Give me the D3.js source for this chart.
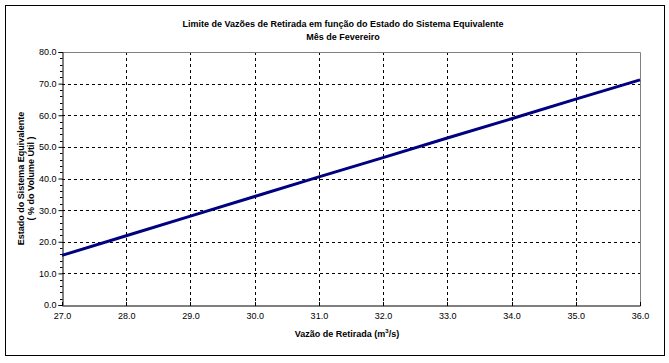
<!DOCTYPE html>
<html>
<head>
<meta charset="utf-8">
<script src="https://cdn.jsdelivr.net/npm/d3@7"></script>
<style>
  body { margin: 0; background: #fff; }
  text { font-family: "Liberation Sans", Arial, sans-serif; fill: #000; }
</style>
</head>
<body>
<svg id="chart"></svg>
<script>
// values
const vazao = [27, 28, 29, 30, 31, 32, 33, 34, 35, 36];
const estado = [15.7, 21.9, 28.1, 34.3, 40.5, 46.6, 52.8, 58.9, 65.1, 71.2];
const xTicks = [27, 28, 29, 30, 31, 32, 33, 34, 35, 36];
const yTicks = [0, 10, 20, 30, 40, 50, 60, 70, 80];
const titleLines = ['Limite de Vazões de Retirada em função do Estado do Sistema Equivalente', 'Mês de Fevereiro'];
const yLabelLines = ['Estado do Sistema Equivalente', '( % do Volume Útil )'];

const width = 669, height = 363;
const margin = {top: 52, right: 29, bottom: 58, left: 62};

const svg = d3.select('#chart')
    .attr('width', width)
    .attr('height', height);

// outer frame
svg.append('rect')
    .attr('x', 5.5).attr('y', 5.5)
    .attr('width', 659).attr('height', 350)
    .attr('fill', 'none')
    .attr('stroke', '#000')
    .attr('stroke-width', 1);

const x = d3.scaleLinear().domain([27, 36]).range([margin.left, width - margin.right]);
const y = d3.scaleLinear().domain([0, 80]).range([height - margin.bottom, margin.top]);

const plot = svg.append('g');

// grid
plot.append('g').attr('class', 'hgrid')
    .selectAll('line')
    .data(yTicks.filter(d => d > 0 && d < 80))
    .enter().append('line')
    .attr('x1', x(27)).attr('x2', x(36))
    .attr('y1', d => Math.round(y(d)) + 0.5).attr('y2', d => Math.round(y(d)) + 0.5)
    .attr('stroke', '#000')
    .attr('stroke-dasharray', '3,3');

plot.append('g').attr('class', 'vgrid')
    .selectAll('line')
    .data(xTicks.filter(d => d > 27 && d < 36))
    .enter().append('line')
    .attr('x1', d => Math.round(x(d)) + 0.5).attr('x2', d => Math.round(x(d)) + 0.5)
    .attr('y1', y(80)).attr('y2', y(0))
    .attr('stroke', '#000')
    .attr('stroke-dasharray', '3,3');

// top and right border of plot area
plot.append('path')
    .attr('d', `M${x(27)},${Math.round(y(80)) + 0.5}H${Math.round(x(36)) + 0.5}V${y(0)}`)
    .attr('fill', 'none')
    .attr('stroke', '#808080');

// y axis
const yAxis = svg.append('g')
    .attr('transform', `translate(${Math.round(x(27)) + 0.5},0)`)
    .call(d3.axisLeft(y).tickValues(yTicks).tickFormat(d3.format('.1f')).tickSize(4).tickPadding(2));
yAxis.select('.domain').attr('stroke', '#000');
yAxis.selectAll('text').style('font-size', '9px').attr('fill', '#000');

// minor y ticks
svg.append('g')
    .selectAll('line')
    .data(d3.range(0, 81, 2).filter(d => d % 10 !== 0))
    .enter().append('line')
    .attr('x1', Math.round(x(27)) - 2).attr('x2', Math.round(x(27)) + 0.5)
    .attr('y1', d => Math.round(y(d)) + 0.5).attr('y2', d => Math.round(y(d)) + 0.5)
    .attr('stroke', '#000');

// x axis
const xAxis = svg.append('g')
    .attr('transform', `translate(0,${Math.round(y(0)) + 0.5})`)
    .call(d3.axisBottom(x).tickValues(xTicks).tickFormat(d3.format('.1f')).tickSize(0).tickPadding(7));
xAxis.select('.domain').attr('stroke', '#000');
xAxis.selectAll('text').style('font-size', '9px').attr('fill', '#000');
xAxis.selectAll('.tick line').remove();
svg.append('g')
    .selectAll('line')
    .data(xTicks)
    .enter().append('line')
    .attr('x1', d => Math.round(x(d)) + 0.5).attr('x2', d => Math.round(x(d)) + 0.5)
    .attr('y1', Math.round(y(0)) - 3).attr('y2', Math.round(y(0)) + 1)
    .attr('stroke', '#000');

// data line
const line = d3.line()
    .x((d, i) => x(vazao[i]))
    .y(d => y(d));

svg.append('path')
    .datum(estado)
    .attr('d', line)
    .attr('fill', 'none')
    .attr('stroke', '#000080')
    .attr('stroke-width', 3);

// title
svg.append('g').selectAll('text')
    .data(titleLines)
    .enter().append('text')
    .attr('x', 343)
    .attr('y', (d, i) => 27 + i * 13)
    .attr('text-anchor', 'middle')
    .style('font-size', '9px')
    .style('font-weight', 'bold')
    .text(d => d);

// y axis title
svg.append('g')
    .attr('transform', `translate(0,${(y(0) + y(80)) / 2}) rotate(-90)`)
    .selectAll('text')
    .data(yLabelLines)
    .enter().append('text')
    .attr('x', 0)
    .attr('y', (d, i) => 24 + i * 10)
    .attr('text-anchor', 'middle')
    .style('font-size', '9px')
    .style('font-weight', 'bold')
    .text(d => d);

// x axis title
const xt = svg.append('text')
    .attr('x', 347)
    .attr('y', 337)
    .attr('text-anchor', 'middle')
    .style('font-size', '9px')
    .style('font-weight', 'bold');
xt.append('tspan').text('Vazão de Retirada (m');
xt.append('tspan').attr('dy', -4).style('font-size', '6px').text('3');
xt.append('tspan').attr('dy', 4).text('/s)');
</script>
</body>
</html>
